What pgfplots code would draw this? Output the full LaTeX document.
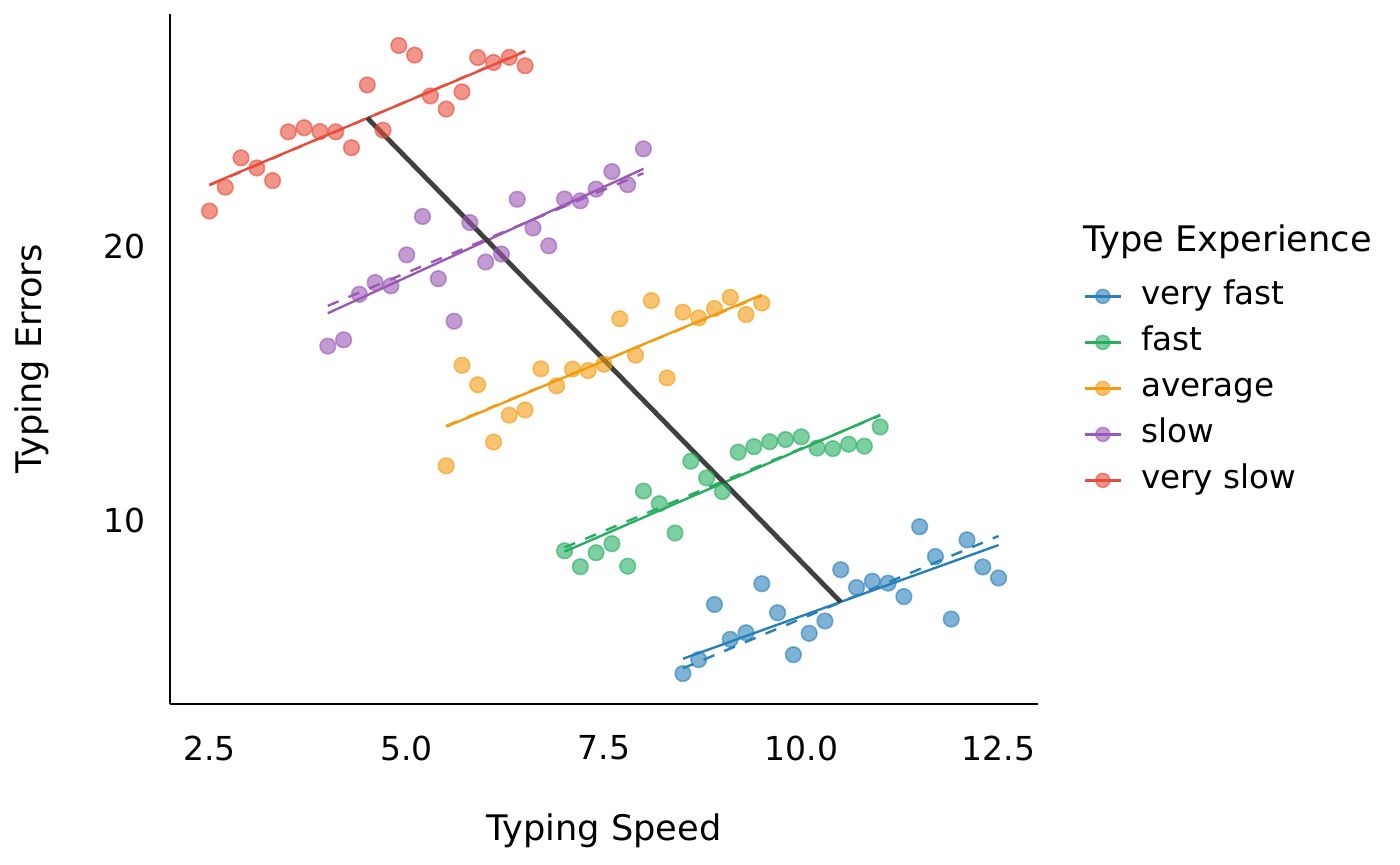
\documentclass[border=0pt]{standalone}
\usepackage{fontspec}
\setmainfont{DejaVu Sans}
\usepackage{pgfplots}
\usepackage{pgfplotstable}
\pgfplotsset{compat=1.18}
\definecolor{cvf}{HTML}{2980B9}
\definecolor{cf}{HTML}{27AE60}
\definecolor{cav}{HTML}{F39C12}
\definecolor{csl}{HTML}{9B59B6}
\definecolor{cvs}{HTML}{E74C3C}
\definecolor{cblk}{HTML}{404040}

\pgfplotstableread{
x y
8.5 4.43
8.7 4.94
8.9 6.95
9.1 5.68
9.3 5.92
9.5 7.71
9.7 6.65
9.9 5.12
10.1 5.90
10.3 6.35
10.5 8.22
10.7 7.57
10.9 7.80
11.1 7.73
11.3 7.24
11.5 9.79
11.7 8.70
11.9 6.42
12.1 9.31
12.3 8.32
12.5 7.92
}\vfast

\pgfplotstableread{
x y
7.0 8.91
7.2 8.33
7.4 8.84
7.6 9.17
7.8 8.35
8.0 11.09
8.2 10.63
8.4 9.56
8.6 12.18
8.8 11.57
9.0 11.07
9.2 12.51
9.4 12.71
9.6 12.89
9.8 12.97
10.0 13.07
10.2 12.66
10.4 12.64
10.6 12.80
10.8 12.73
11.0 13.43
}\fast

\pgfplotstableread{
x y
5.5 12.01
5.7 15.68
5.9 14.97
6.1 12.88
6.3 13.86
6.5 14.05
6.7 15.55
6.9 14.93
7.1 15.54
7.3 15.49
7.5 15.72
7.7 17.38
7.9 16.05
8.1 18.04
8.3 15.22
8.5 17.62
8.7 17.41
8.9 17.75
9.1 18.16
9.3 17.53
9.5 17.95
}\average

\pgfplotstableread{
x y
4.0 16.38
4.2 16.61
4.4 18.27
4.6 18.70
4.8 18.58
5.0 19.71
5.2 21.11
5.4 18.84
5.6 17.29
5.8 20.89
6.0 19.45
6.2 19.74
6.4 21.74
6.6 20.69
6.8 20.04
7.0 21.75
7.2 21.68
7.4 22.11
7.6 22.75
7.8 22.27
8.0 23.58
}\slow

\pgfplotstableread{
x y
2.5 21.31
2.7 22.18
2.9 23.25
3.1 22.88
3.3 22.42
3.5 24.20
3.7 24.35
3.9 24.21
4.1 24.20
4.3 23.62
4.5 25.91
4.7 24.26
4.9 27.35
5.1 27.00
5.3 25.51
5.5 25.03
5.7 25.66
5.9 26.91
6.1 26.73
6.3 26.92
6.5 26.61
}\vslow

\pgfplotsset{
  pts/.style={only marks, mark=*, mark size=3.9pt,
    mark options={fill=#1, draw=#1, fill opacity=0.6, draw opacity=0.6, line width=0.8pt}},
  fitline/.style={#1, line width=1.2pt, no marks},
  fitdash/.style={#1, line width=1.2pt, no marks, dash pattern=on 5.8pt off 5.4pt},
  leg/.style={color=#1, line width=1.2pt, mark=*, mark size=3.5pt,
    mark options={solid, fill=#1, draw=#1, fill opacity=0.6, draw opacity=0.6, line width=0.8pt}},
}

\begin{document}
\begin{tikzpicture}
\useasboundingbox (-85pt,-80.5pt) rectangle (615pt,352pt);
\begin{axis}[
  scale only axis, width=434pt, height=345pt,
  xmin=2, xmax=13, ymin=3.32, ymax=28.5,
  axis x line=bottom, axis y line=left,
  axis line style={-, line width=1pt, black},
  xtick={2.5,5,7.5,10,12.5}, ytick={10,20},
  major tick length=0pt,
  /pgf/number format/assume math mode=true,
  xticklabel style={/pgf/number format/.cd, fixed, fixed zerofill, precision=1, /tikz/.cd,
    anchor=center, yshift=-22pt},
  yticklabel style={anchor=east, inner sep=0pt, xshift=-12pt},
  tick label style={font=\fontsize{16.5}{20}\selectfont},
  label style={font=\fontsize{17.6}{21}\selectfont},
  xlabel={Typing Speed},
  ylabel={Typing Errors},
  xlabel style={at={(axis description cs:0.5,-0.184)}, anchor=center},
  ylabel style={at={(axis description cs:-0.159,0.5)}, anchor=center, rotate=0},
  legend style={at={(axis description cs:1.0521,0.6116)}, anchor=north west,
    draw=none, fill=none, inner sep=0pt, row sep=9pt, column sep=9.5pt,
    font=\fontsize{16.3}{20}\selectfont,
    nodes={inner sep=0pt, text height=11pt, text depth=3pt}},
  legend cell align=left,
  legend image code/.code={\draw[mark repeat=2,mark phase=2,#1] plot coordinates {(0pt,0pt) (9pt,0pt) (18pt,0pt)};},
  clip=false,
]
\addlegendimage{leg=cvf}\addlegendentry{very fast}
\addlegendimage{leg=cf}\addlegendentry{fast}
\addlegendimage{leg=cav}\addlegendentry{average}
\addlegendimage{leg=csl}\addlegendentry{slow}
\addlegendimage{leg=cvs}\addlegendentry{very slow}

\addplot[pts=cvf, forget plot] table {\vfast};
\addplot[pts=cf, forget plot] table {\fast};
\addplot[pts=cav, forget plot] table {\average};
\addplot[pts=csl, forget plot] table {\slow};
\addplot[pts=cvs, forget plot] table {\vslow};

\addplot[fitline=cvf, forget plot] coordinates {(8.5,4.97) (12.5,9.12)};
\addplot[fitdash=cvf, forget plot] coordinates {(8.5,4.62) (12.5,9.45)};
\addplot[fitline=cf, forget plot] coordinates {(7,8.88) (11,13.87)};
\addplot[fitdash=cf, forget plot] coordinates {(7,9.03) (11,13.85)};
\addplot[fitline=cav, forget plot] coordinates {(5.5,13.44) (9.5,18.25)};
\addplot[fitdash=cav, forget plot] coordinates {(5.5,13.47) (9.5,18.22)};
\addplot[fitline=csl, forget plot] coordinates {(4,17.58) (8,22.85)};
\addplot[fitdash=csl, forget plot] coordinates {(4,17.85) (8,22.69)};
\addplot[fitline=cvs, forget plot] coordinates {(2.5,22.27) (6.5,27.13)};
\addplot[fitdash=cvs, forget plot] coordinates {(2.5,22.25) (6.5,27.15)};

\addplot[cblk, line width=2.4pt, no marks, forget plot] coordinates {(4.5,24.71) (10.5,7.04)};
\end{axis}
\node[anchor=base west, inner sep=0pt, font=\fontsize{17.6}{21}\selectfont] at (456.5pt,226pt) {Type Experience};
\end{tikzpicture}
\end{document}
